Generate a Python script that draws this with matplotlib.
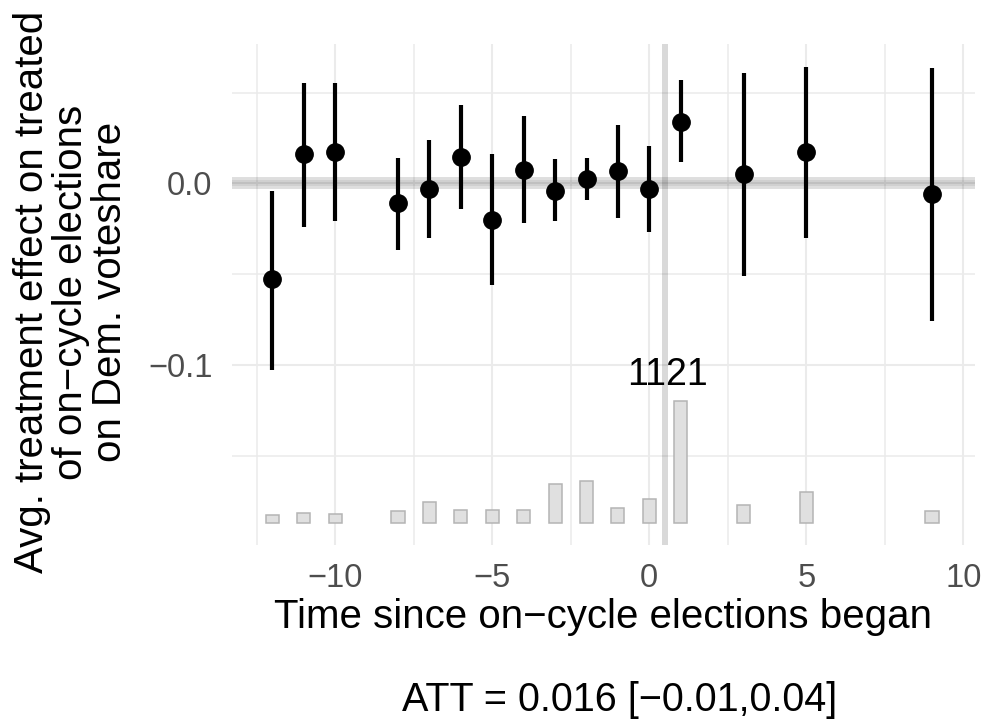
import matplotlib.pyplot as plt
import numpy as np
from matplotlib.ticker import MultipleLocator, FixedLocator

plt.rcParams['font.family'] = ['Liberation Sans', 'DejaVu Sans']
plt.rcParams['axes.unicode_minus'] = True

# event time, ATT estimates and 95% CI
times = [-12, -11, -10, -8, -7, -6, -5, -4, -3, -2, -1, 0, 1, 3, 5, 9]
att = [-0.053, 0.016, 0.017, -0.011, -0.003, 0.0145, -0.020, 0.0075,
       -0.004, 0.0024, 0.0066, -0.003, 0.034, 0.005, 0.017, -0.006]
ci_lo = [-0.103, -0.024, -0.021, -0.037, -0.030, -0.014, -0.056, -0.022,
         -0.021, -0.009, -0.019, -0.027, 0.0115, -0.051, -0.030, -0.076]
ci_hi = [-0.004, 0.055, 0.055, 0.014, 0.024, 0.043, 0.016, 0.037,
         0.0135, 0.0137, 0.032, 0.0205, 0.057, 0.061, 0.064, 0.0635]
# number of treated observations at each event time
counts = [67, 85, 82, 104, 192, 113, 119, 116, 355, 385, 131, 214, 1121, 159, 284, 107]

att_label = 'ATT = 0.016 [\u22120.01,0.04]'

times = np.array(times)
att = np.array(att)
counts = np.array(counts)

fig = plt.figure(figsize=(9.85, 7.27), dpi=100)
ax = fig.add_axes([0.2355, 0.2503, 0.7543, 0.6891])

# count bars along the bottom
bar_base = -0.187
bar_max = 0.0672
heights = counts / counts.max() * bar_max
ax.bar(times, heights, bottom=bar_base, width=0.42, color='#e0e0e0',
       edgecolor='#b4b4b4', linewidth=1.1, zorder=2)
imax = np.argmax(counts)
ax.text(times[imax] - 0.42, bar_base + heights[imax] + 0.0045, str(counts[imax]),
        ha='center', va='bottom', fontsize=27, color='black', zorder=5)

# reference lines
ax.axhline(0, color='black', alpha=0.13, linewidth=8.6, zorder=3)
ax.axhline(0, color='black', alpha=0.06, linewidth=4.3, zorder=3)
ax.axvline(0.5, color='black', alpha=0.15, linewidth=4.3, zorder=3)

# estimates
ax.vlines(times, ci_lo, ci_hi, color='black', linewidth=3.0, zorder=4)
ax.plot(times, att, 'o', color='black', markersize=12.5, zorder=5)

ax.set_xlim(-13.29, 10.37)
ax.set_ylim(-0.1993, 0.0767)
ax.xaxis.set_major_locator(MultipleLocator(5))
ax.xaxis.set_minor_locator(MultipleLocator(2.5))
ax.yaxis.set_major_locator(FixedLocator([-0.1, 0.0]))
ax.yaxis.set_minor_locator(FixedLocator([-0.15, -0.05, 0.05]))
ax.set_yticklabels(['\u22120.1', '0.0'])

ax.grid(which='major', color='#ebebeb', linewidth=1.5, zorder=0)
ax.grid(which='minor', color='#ebebeb', linewidth=1.1, zorder=0)
ax.set_axisbelow(True)
for s in ax.spines.values():
    s.set_visible(False)
ax.tick_params(which='both', length=0, labelsize=23.5, labelcolor='#4d4d4d')
ax.tick_params(axis='x', pad=13)
ax.tick_params(axis='y', pad=14)

ax.set_xlabel('Time since on\u2212cycle elections began', fontsize=29, labelpad=3)
fig.text(71 / 985, 1 - 292 / 727,
         'Avg. treatment effect on treated\nof on\u2212cycle elections\non Dem. voteshare',
         rotation=90, ha='center', va='center', multialignment='center',
         fontsize=29, linespacing=1.02)
fig.text(620 / 985, 1 - 700 / 727, att_label, ha='center', va='center', fontsize=28.5)

fig.savefig('out.png', dpi=100)
